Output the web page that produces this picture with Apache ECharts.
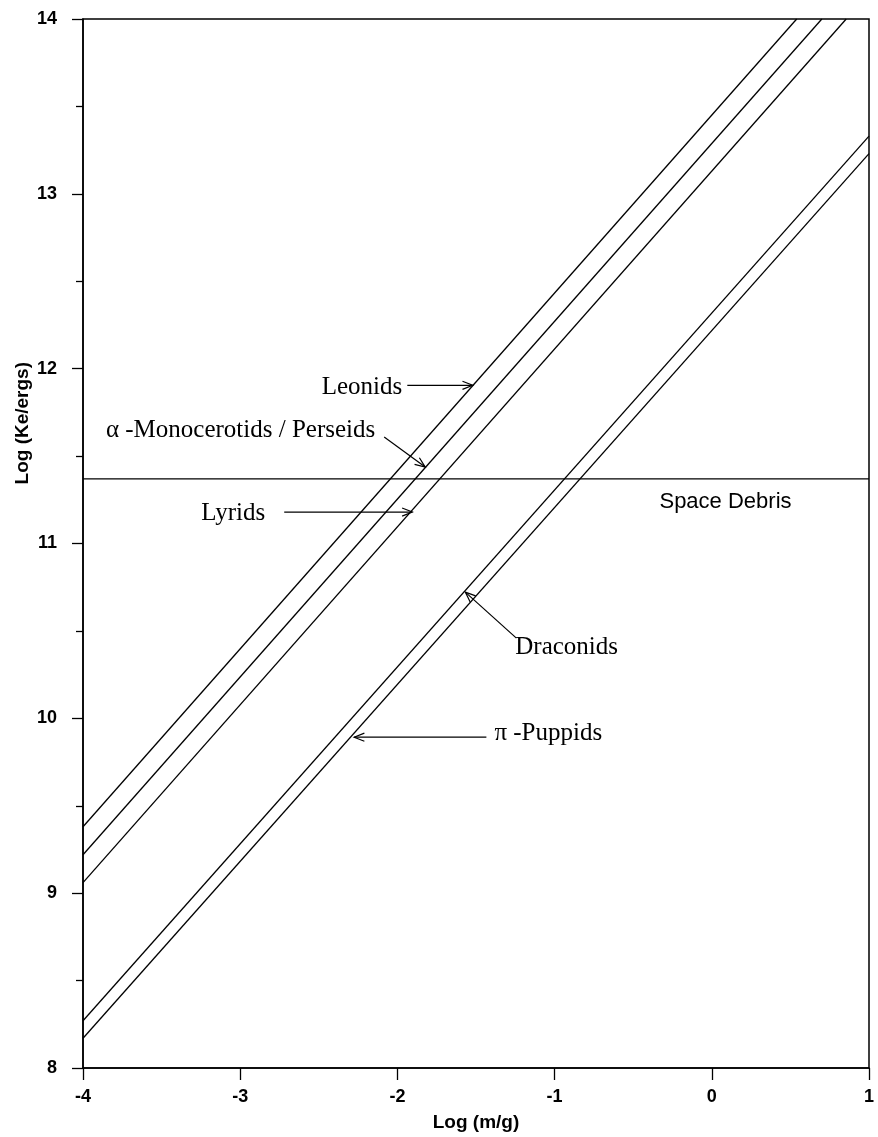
<!DOCTYPE html>
<html>
<head>
<meta charset="utf-8">
<script src="https://cdn.jsdelivr.net/npm/echarts@6/dist/echarts.min.js"></script>
<style>
  html, body { margin: 0; padding: 0; background: #fff; }
  #chart { width: 878px; height: 1137px; }
</style>
</head>
<body>
<div id="chart"></div>
<script>
// Kinetic energy vs. mass for meteoroid streams (log-log), with the space-debris threshold.
const xTicks = [-4, -3, -2, -1, 0, 1];
const yTicks = [8, 9, 10, 11, 12, 13, 14];

// Stream lines, endpoints [log m, log KE]
const leonids      = [[-4, 9.38], [0.54, 14]];
const monoPerseids = [[-4, 9.22], [0.70, 14]];
const lyrids       = [[-4, 9.06], [0.855, 14]];
const draconids    = [[-4, 8.27], [1, 13.33]];
const puppids      = [[-4, 8.17], [1, 13.23]];

// Space debris level
const debrisLevel = 11.37;
const debrisLine  = [[-4, debrisLevel], [1, debrisLevel]];

// Callout labels, in data units: text anchor, arrow tail, arrow head
const calloutText  = ['Leonids', 'α -Monocerotids / Perseids', 'Lyrids', 'Draconids', 'π -Puppids'];
const calloutAnchor = [[-1.969, 11.895], [-3.854, 11.649], [-2.841, 11.174], [-1.250, 10.407], [-1.383, 9.915]];
const calloutAlign  = ['right', 'left', 'right', 'left', 'left'];
const arrowTail = [[-1.937, 11.905], [-2.084, 11.609], [-2.720, 11.180], [-1.243, 10.459], [-1.434, 9.892]];
const arrowHead = [[-1.521, 11.905], [-1.823, 11.437], [-1.905, 11.180], [-1.568, 10.722], [-2.275, 9.892]];
const debrisText = 'Space Debris';
const debrisAnchor = [-0.333, 11.237];

const SANS = 'Arial, "Liberation Sans", sans-serif';
const SERIF = '"Times New Roman", "Liberation Serif", serif';

const chart = echarts.init(document.getElementById('chart'), null, { renderer: 'canvas' });

function lineSeries(name, data) {
  return {
    name, type: 'line', data, showSymbol: false, silent: true,
    lineStyle: { color: '#000', width: 1.3 }, z: 3
  };
}

const option = {
  animation: false,
  backgroundColor: '#fff',
  grid: {
    left: 83, top: 19, width: 786, height: 1049,
    show: true, borderColor: '#000', borderWidth: 1.5, backgroundColor: 'transparent'
  },
  xAxis: {
    type: 'value', min: xTicks[0], max: xTicks[xTicks.length - 1], interval: 1,
    name: 'Log (m/g)', nameLocation: 'middle', nameGap: 45,
    nameTextStyle: { fontFamily: SANS, fontWeight: 'bold', fontSize: 19, color: '#000' },
    axisLine: { show: true, onZero: false, lineStyle: { color: '#000', width: 1.5 } },
    axisTick: { show: true, inside: false, length: 12, lineStyle: { color: '#000', width: 1.3 } },
    axisLabel: { fontFamily: SANS, fontWeight: 'bold', fontSize: 18, color: '#000', margin: 20 },
    splitLine: { show: false }
  },
  yAxis: {
    type: 'value', min: yTicks[0], max: yTicks[yTicks.length - 1], interval: 1,
    axisLine: { show: true, onZero: false, lineStyle: { color: '#000', width: 1.5 } },
    axisTick: { show: true, inside: false, length: 11, lineStyle: { color: '#000', width: 1.3 } },
    minorTick: { show: true, splitNumber: 2, length: 7, lineStyle: { color: '#000', width: 1.3 } },
    axisLabel: { fontFamily: SANS, fontWeight: 'bold', fontSize: 18, color: '#000', margin: 26 },
    splitLine: { show: false }
  },
  graphic: [{
    type: 'text', left: 13, top: 362, rotation: Math.PI / 2,
    style: { text: 'Log (Ke/ergs)', font: 'bold 19px ' + SANS, fill: '#000' }
  }],
  series: [
    lineSeries('Leonids', leonids),
    lineSeries('α-Monocerotids / Perseids', monoPerseids),
    lineSeries('Lyrids', lyrids),
    lineSeries('Draconids', draconids),
    lineSeries('π-Puppids', puppids),
    lineSeries('Space Debris', debrisLine),
    {
      type: 'custom', name: 'callouts', silent: true, clip: false, z: 5,
      data: calloutText.map((t, i) => [arrowHead[i][0], arrowHead[i][1]]),
      renderItem(params, api) {
        const i = params.dataIndex;
        const p = api.coord(calloutAnchor[i]);
        const a = api.coord(arrowTail[i]);
        const b = api.coord(arrowHead[i]);
        const ang = Math.atan2(b[1] - a[1], b[0] - a[0]);
        const L = 11, spread = 0.38;
        const h1 = [b[0] - L * Math.cos(ang - spread), b[1] - L * Math.sin(ang - spread)];
        const h2 = [b[0] - L * Math.cos(ang + spread), b[1] - L * Math.sin(ang + spread)];
        const children = [
          { type: 'text', style: { x: p[0], y: p[1], text: calloutText[i], font: '25px ' + SERIF, fill: '#000', align: calloutAlign[i], verticalAlign: 'middle' } },
          { type: 'line', shape: { x1: a[0], y1: a[1], x2: b[0], y2: b[1] }, style: { stroke: '#000', lineWidth: 1.2 } },
          { type: 'polyline', shape: { points: [h1, b, h2] }, style: { stroke: '#000', lineWidth: 1.2, fill: null } }
        ];
        if (i === 0) {
          const d = api.coord(debrisAnchor);
          children.push({ type: 'text', style: { x: d[0], y: d[1], text: debrisText, font: '22px ' + SANS, fill: '#000', align: 'left', verticalAlign: 'middle' } });
        }
        return { type: 'group', children };
      }
    }
  ]
};

chart.setOption(option);
</script>
</body>
</html>
